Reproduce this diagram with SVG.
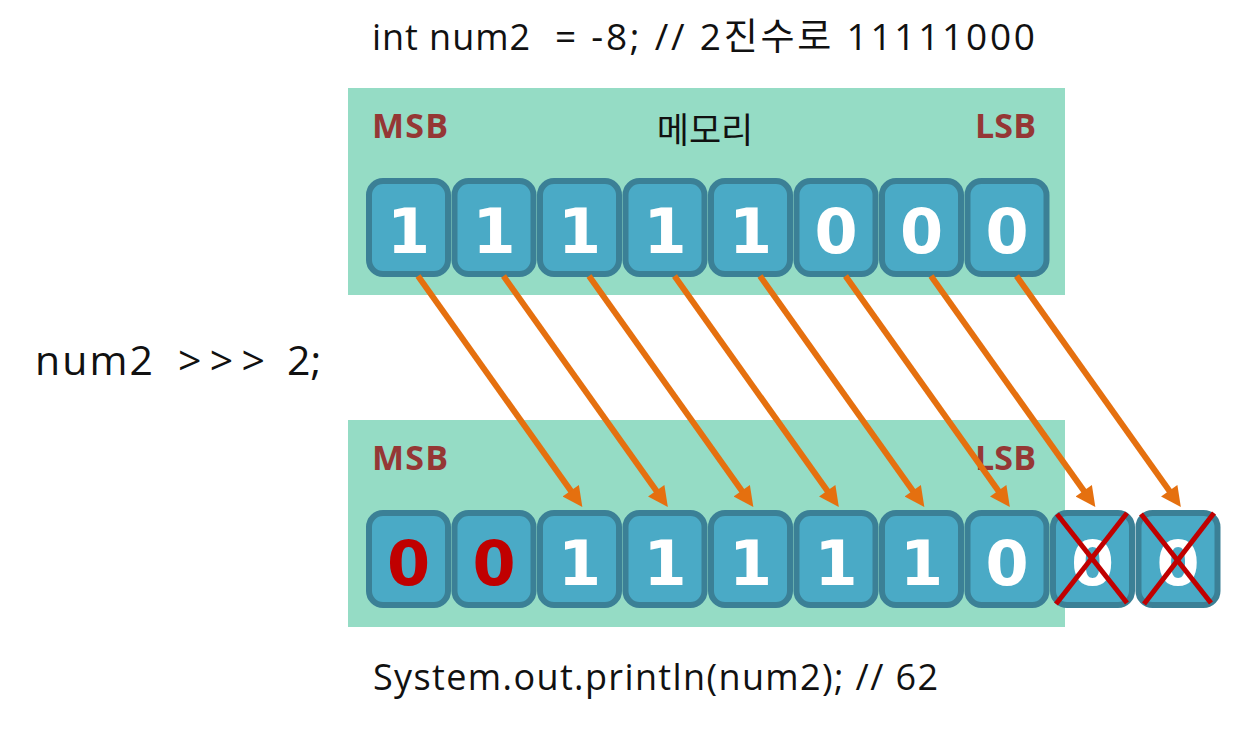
<svg xmlns="http://www.w3.org/2000/svg" width="1250" height="739" viewBox="0 0 1250 739">
  <defs>
    <style>
      .panel { fill: #95dcc5; }
      .cell { fill: #4aaac6; stroke: #3b8096; stroke-width: 6; }
      .dig { font-family: "DejaVu Sans", "Liberation Sans", sans-serif; font-weight: bold; font-size: 62px; fill: #ffffff; text-anchor: middle; }
      .red { fill: #c00000; }
      .bit { font-family: "Open Sans", "Noto Sans CJK KR", sans-serif; font-weight: bold; font-size: 34px; fill: #953735; }
      .txt { font-family: "Open Sans", "Noto Sans CJK KR", sans-serif; font-size: 36px; fill: #111111; white-space: pre; }
      .kr { font-family: "Noto Sans CJK KR", sans-serif; font-size: 35px; fill: #111111; }
      .arr { stroke: #e5700f; stroke-width: 6; fill: none; marker-end: url(#ah); }
      .x { stroke: #c00000; stroke-width: 5; stroke-linecap: butt; }
    </style>
    <marker id="ah" viewBox="0 0 10 10" refX="3.6" refY="5" markerWidth="22" markerHeight="20" markerUnits="userSpaceOnUse" orient="auto">
      <path d="M0,0 L10,5 L0,10 Z" fill="#e5700f"/>
    </marker>
  </defs>
  <rect width="1250" height="739" fill="#ffffff"/>

  <g id="title">
    <text class="txt" y="50" xml:space="preserve"><tspan x="372" textLength="158" lengthAdjust="spacing">int num2</tspan><tspan x="555" style="font-size:37px" textLength="480" lengthAdjust="spacing">= -8; // 2진수로 11111000</tspan></text>
  </g>

  <g id="memory-top">
    <rect class="panel" x="348" y="88" width="717" height="207"/>
    <text class="bit" x="372" y="138" textLength="76" lengthAdjust="spacing">MSB</text>
    <text class="kr" x="705" y="143" text-anchor="middle">메모리</text>
    <text class="bit" x="975" y="138" textLength="61" lengthAdjust="spacing">LSB</text>
    <g id="top-cells">
      <rect class="cell" x="369" y="181" width="79" height="93" rx="14"/>
      <rect class="cell" x="454.5" y="181" width="79" height="93" rx="14"/>
      <rect class="cell" x="540" y="181" width="79" height="93" rx="14"/>
      <rect class="cell" x="625.5" y="181" width="79" height="93" rx="14"/>
      <rect class="cell" x="711" y="181" width="79" height="93" rx="14"/>
      <rect class="cell" x="796.5" y="181" width="79" height="93" rx="14"/>
      <rect class="cell" x="882" y="181" width="79" height="93" rx="14"/>
      <rect class="cell" x="967.5" y="181" width="79" height="93" rx="14"/>
      <text class="dig" x="408.5" y="253">1</text>
      <text class="dig" x="494" y="253">1</text>
      <text class="dig" x="579.5" y="253">1</text>
      <text class="dig" x="665" y="253">1</text>
      <text class="dig" x="750.5" y="253">1</text>
      <text class="dig" x="836" y="253">0</text>
      <text class="dig" x="921.5" y="253">0</text>
      <text class="dig" x="1007" y="253">0</text>
    </g>
  </g>

  <g id="operation">
    <text class="txt" y="375" style="font-size:41px" xml:space="preserve"><tspan x="35" textLength="118" lengthAdjust="spacing">num2</tspan><tspan x="178" textLength="87" lengthAdjust="spacing">&gt;&gt;&gt;</tspan><tspan x="287">2;</tspan></text>
  </g>

  <g id="memory-bottom">
    <rect class="panel" x="348" y="420" width="717" height="207"/>
    <text class="bit" x="372" y="470" textLength="76" lengthAdjust="spacing">MSB</text>
    <text class="bit" x="975" y="470" textLength="61" lengthAdjust="spacing">LSB</text>
    <g id="bottom-cells">
      <rect class="cell" x="369" y="513" width="79" height="92" rx="14"/>
      <rect class="cell" x="454.5" y="513" width="79" height="92" rx="14"/>
      <rect class="cell" x="540" y="513" width="79" height="92" rx="14"/>
      <rect class="cell" x="625.5" y="513" width="79" height="92" rx="14"/>
      <rect class="cell" x="711" y="513" width="79" height="92" rx="14"/>
      <rect class="cell" x="796.5" y="513" width="79" height="92" rx="14"/>
      <rect class="cell" x="882" y="513" width="79" height="92" rx="14"/>
      <rect class="cell" x="967.5" y="513" width="79" height="92" rx="14"/>
      <rect class="cell" x="1053" y="513" width="79" height="92" rx="14"/>
      <rect class="cell" x="1138.5" y="513" width="79" height="92" rx="14"/>
      <text class="dig red" x="408.5" y="585">0</text>
      <text class="dig red" x="494" y="585">0</text>
      <text class="dig" x="579.5" y="585">1</text>
      <text class="dig" x="665" y="585">1</text>
      <text class="dig" x="750.5" y="585">1</text>
      <text class="dig" x="836" y="585">1</text>
      <text class="dig" x="921.5" y="585">1</text>
      <text class="dig" x="1007" y="585">0</text>
      <text class="dig" x="1092.5" y="585">0</text>
      <text class="dig" x="1178" y="585">0</text>
    </g>
    <g id="discarded">
      <line class="x" x1="1056" y1="604" x2="1127" y2="513"/>
      <line class="x" x1="1057" y1="514" x2="1127" y2="603"/>
      <line class="x" x1="1141" y1="514" x2="1211" y2="603"/>
      <line class="x" x1="1144" y1="604" x2="1214" y2="513"/>
    </g>
  </g>

  <g id="connectors">
    <line class="arr" x1="418" y1="276" x2="574.9" y2="496.6"/>
    <line class="arr" x1="503.5" y1="276" x2="660.4" y2="496.6"/>
    <line class="arr" x1="589" y1="276" x2="745.9" y2="496.6"/>
    <line class="arr" x1="674.5" y1="276" x2="831.4" y2="496.6"/>
    <line class="arr" x1="760" y1="276" x2="916.9" y2="496.6"/>
    <line class="arr" x1="845.5" y1="276" x2="1002.4" y2="496.6"/>
    <line class="arr" x1="931" y1="276" x2="1087.9" y2="496.6"/>
    <line class="arr" x1="1016.5" y1="276" x2="1173.4" y2="496.6"/>
  </g>

  <g id="result">
    <text class="txt" x="373" y="690" textLength="565" lengthAdjust="spacing">System.out.println(num2); // 62</text>
  </g>
</svg>
